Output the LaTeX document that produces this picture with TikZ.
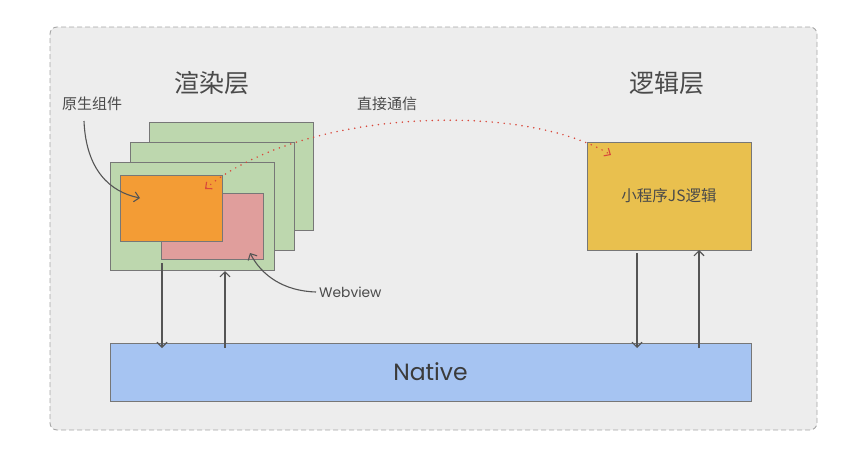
\documentclass[tikz,border=0pt]{standalone}
\usepackage{fontspec}
\setmainfont{Noto Sans CJK SC}
\newfontfamily\latinfont{Poppins}
\usetikzlibrary{arrows.meta,calc}
\definecolor{bgc}{HTML}{EDEDED}
\definecolor{edgec}{HTML}{777777}
\definecolor{greenc}{HTML}{BDD7AE}
\definecolor{orangec}{HTML}{F39C35}
\definecolor{pinkc}{HTML}{E09E9C}
\definecolor{yellowc}{HTML}{E9C04E}
\definecolor{bluec}{HTML}{A6C4F2}
\definecolor{txtc}{HTML}{4A4A4A}
\definecolor{linec}{HTML}{555555}
\definecolor{redc}{HTML}{D9483B}
\begin{document}
\begin{tikzpicture}[x=1pt,y=-1pt,
  box/.style={draw=edgec,line width=0.9pt,anchor=north west,inner sep=0pt,outer sep=0pt},
  conn/.style={draw=linec,line width=1.1pt,-{Straight Barb[length=5pt,width=10pt,line width=1.1pt]}},
  lbl/.style={text=txtc,font=\fontsize{15}{17}\selectfont,inner sep=0pt},
  title/.style={text=txtc,font=\fontsize{25}{29}\selectfont,inner sep=0pt}]
\useasboundingbox (0,0) rectangle (852,474);
\node[box,draw=gray!70,dashed,dash pattern=on 5pt off 3pt,fill=bgc,rounded corners=7pt,minimum width=767pt,minimum height=403pt] (outer) at (50,27) {};
% rendering layer
\node[box,fill=greenc,minimum width=164pt,minimum height=108pt] (g3) at (149,122) {};
\node[box,fill=greenc,minimum width=164pt,minimum height=108pt] (g2) at (130,142) {};
\node[box,fill=greenc,minimum width=164pt,minimum height=108pt] (g1) at (110,162) {};
\node[box,fill=pinkc,minimum width=102pt,minimum height=66pt] (web) at (161,193) {};
\node[box,fill=orangec,minimum width=102pt,minimum height=66pt] (nat) at (120,175) {};
% logic layer
\node[box,fill=yellowc,minimum width=164pt,minimum height=108pt] (logic) at (587,142) {};
\node[text=txtc,font=\fontsize{15.5}{18}\selectfont] at (logic.center) {小程序JS逻辑};
% native
\node[box,fill=bluec,minimum width=641pt,minimum height=58pt] (native) at (110,343) {};
\node[text=txtc!80!black,font=\latinfont\fontsize{23.5}{27}\selectfont] at (native.center) {Native};
% titles
\node[title] (t1) at (212,83) {渲染层};
\node[title] (t2) at (667,83) {逻辑层};
\node[lbl] (l1) at (92,104) {原生组件};
\node[lbl] (l2) at (387,104) {直接通信};
\node[lbl,anchor=west,font=\latinfont\fontsize{13.8}{16}\selectfont] (l3) at (319,292) {Webview};
% vertical connectors
\coordinate (a1) at (162,263);
\coordinate (a2) at (225,348);
\coordinate (a3) at (637,253);
\coordinate (a4) at (699,348);
\draw[conn] (a1) -- ([yshift=-5pt]a1 |- native.north);
\draw[conn] (a2) -- ([yshift=-1pt]a2 |- g1.south);
\draw[conn] (a3) -- ([yshift=-5pt]a3 |- native.north);
\draw[conn] (a4) -- (a4 |- logic.south);
% curved callouts
\coordinate (c1) at (84,121);
\coordinate (c2) at (140,198);
\draw[conn] (c1) .. controls (86,170) and (110,192) .. (c2);
\coordinate (c3) at (316,292);
\coordinate (c4) at (250,253);
\draw[conn] (c3) .. controls (284,291) and (262,276) .. (c4);
% dotted direct communication
\coordinate (d1) at (205,189);
\coordinate (d2) at (611,155);
\draw[draw=redc,line width=1.7pt,line cap=round,dash pattern=on 0pt off 6pt,
  {Straight Barb[length=5pt,width=9pt,line width=1.1pt]}-{Straight Barb[length=5pt,width=9pt,line width=1.1pt]}]
  (d1) .. controls (300,110) and (520,100) .. (d2);
\end{tikzpicture}
\end{document}
